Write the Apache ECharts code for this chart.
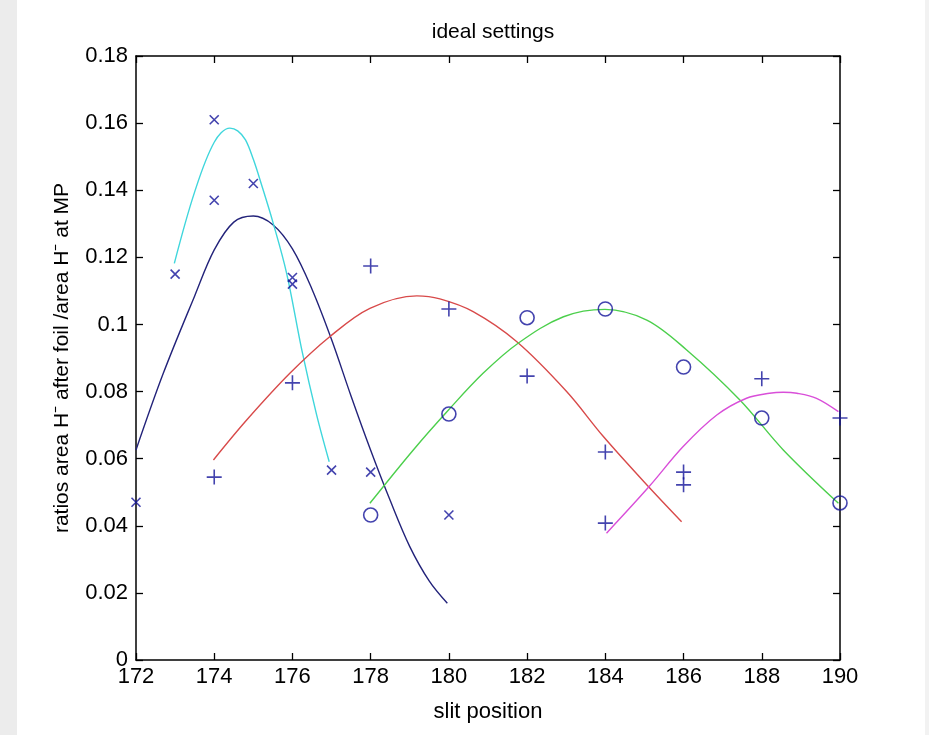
<!DOCTYPE html>
<html>
<head>
<meta charset="utf-8">
<script src="https://cdn.jsdelivr.net/npm/echarts@6/dist/echarts.min.js"></script>
<style>
html,body{margin:0;padding:0;background:#fff;}
#c{width:929px;height:735px;}
</style>
</head>
<body>
<div id="c"></div>
<script>
// ---- data ----
const title = 'ideal settings';
const xName = 'slit position';
const yName = 'ratios area H\u207B after foil /area H\u207B at MP';
const xTicks = [172,174,176,178,180,182,184,186,188,190];
const yTicks = [0,0.02,0.04,0.06,0.08,0.1,0.12,0.14,0.16,0.18];

// measured points (marker types)
const crossPts = [[172,0.047],[173,0.115],[174,0.161],[174,0.137],[175,0.142],[176,0.114],[176,0.112],[177,0.0566],[178,0.056],[180,0.0432]];
const plusPts = [[174,0.0545],[176,0.0826],[178,0.1174],[180,0.1046],[182,0.0846],[184,0.062],[184,0.0408],[186,0.056],[186,0.0522],[188,0.0838],[190,0.0721]];
const circlePts = [[178,0.0432],[180,0.0733],[182,0.102],[184,0.1046],[186,0.0873],[188,0.0721],[190,0.0468]];

// fitted curves
const cyanCurve = [[172.98,0.1182],[173.5,0.1395],[174.0,0.1543],[174.4,0.1585],[174.6,0.1577],[174.8,0.155],[175.0,0.1492],[175.2,0.142],[175.5,0.1305],[175.85,0.1153],[176.25,0.0918],[176.62,0.073],[176.94,0.0591]];
const navyCurve = [[172,0.0626],[172.7,0.0855],[173.5,0.1085],[174.0,0.1222],[174.5,0.1305],[175.0,0.1323],[175.5,0.1297],[176.0,0.1225],[176.5,0.1105],[177.0,0.0955],[177.5,0.0786],[178.0,0.0625],[178.5,0.0475],[179.0,0.0338],[179.5,0.0235],[179.96,0.0169]];
const redCurve = [[173.98,0.0596],[174.83,0.0715],[175.94,0.0855],[176.96,0.0964],[177.98,0.1048],[179.18,0.1085],[179.77,0.1076],[180.62,0.1038],[181.73,0.0949],[183.01,0.080],[183.95,0.0666],[185.1,0.0517],[185.95,0.0412]];
const greenCurve = [[177.98,0.0467],[179.09,0.0626],[179.99,0.0745],[180.88,0.0855],[181.77,0.0944],[182.93,0.1023],[183.99,0.1045],[185.06,0.1013],[186.08,0.0924],[187.44,0.0775],[188.55,0.0626],[189.96,0.0467]];
const magentaCurve = [[184.03,0.0378],[185.12,0.0517],[185.99,0.0636],[186.85,0.073],[187.61,0.078],[188.2,0.0795],[188.55,0.0798],[188.9,0.0795],[189.4,0.078],[189.96,0.074]];

const FONT = '"Liberation Sans Narrow","Arial Narrow","Liberation Sans",Arial,sans-serif';
const MARK = '#14149a';

const chart = echarts.init(document.getElementById('c'), null, {renderer:'canvas'});

function curve(data, color){
  return {type:'line', data:data, smooth:0.35, showSymbol:false, symbol:'none',
    lineStyle:{color:color, width:1.4}, xAxisIndex:0, yAxisIndex:0, silent:true, z:2};
}
function marks(data, symbol, size){
  return {type:'scatter', data:data, symbol:symbol, symbolSize:size,
    itemStyle:{color:'rgba(0,0,0,0)', borderColor:MARK, borderWidth:1.6},
    xAxisIndex:0, yAxisIndex:0, silent:true, z:3};
}

const axisCommon = {
  axisLine:{show:true, onZero:false, lineStyle:{color:'#000', width:1.5}},
  axisTick:{show:true, inside:true, length:7, lineStyle:{color:'#000', width:1.3}},
  splitLine:{show:false}
};

chart.setOption({
  animation:false,
  backgroundColor:'#fff',
  title:{text:title, left:488, top:17, textAlign:'center',
    textStyle:{fontFamily:FONT, fontSize:21, fontWeight:'normal', color:'#000'}},
  graphic:[{type:'rect', shape:{x:0,y:0,width:17,height:735}, style:{fill:'#ececec'}, z:-10},
           {type:'rect', shape:{x:925,y:0,width:4,height:735}, style:{fill:'#f2f2f2'}, z:-10}],
  grid:{left:136, right:89, top:56, bottom:75, containLabel:false},
  xAxis:[
    Object.assign({type:'value', min:172, max:190, interval:2, position:'bottom',
      name:xName, nameLocation:'middle', nameGap:41,
      nameTextStyle:{fontFamily:FONT, fontSize:22, color:'#000'},
      axisLabel:{fontFamily:FONT, fontSize:22, color:'#000', margin:6}}, axisCommon),
    Object.assign({type:'value', min:172, max:190, interval:2, position:'top',
      axisLabel:{show:false}}, axisCommon)
  ],
  yAxis:[
    Object.assign({type:'value', min:0, max:0.18, interval:0.02, position:'left',
      name:yName, nameLocation:'middle', nameGap:63, nameRotate:90,
      nameTextStyle:{fontFamily:FONT, fontSize:21, color:'#000'},
      axisLabel:{fontFamily:FONT, fontSize:22, color:'#000', margin:8,
        formatter:function(v){return String(Math.round(v*100)/100);}}}, axisCommon),
    Object.assign({type:'value', min:0, max:0.18, interval:0.02, position:'right',
      axisLabel:{show:false}}, axisCommon)
  ],
  series:[
    curve(navyCurve, '#23237a'),
    curve(cyanCurve, '#3fd6dc'),
    curve(redCurve, '#d84a4a'),
    curve(greenCurve, '#4ccf4c'),
    curve(magentaCurve, '#d94fd9'),
    marks(crossPts, 'path://M0,0L10,10M10,0L0,10', 9),
    marks(plusPts, 'path://M0,5L10,5M5,0L5,10', 15),
    marks(circlePts, 'circle', 14)
  ]
});
</script>
</body>
</html>
